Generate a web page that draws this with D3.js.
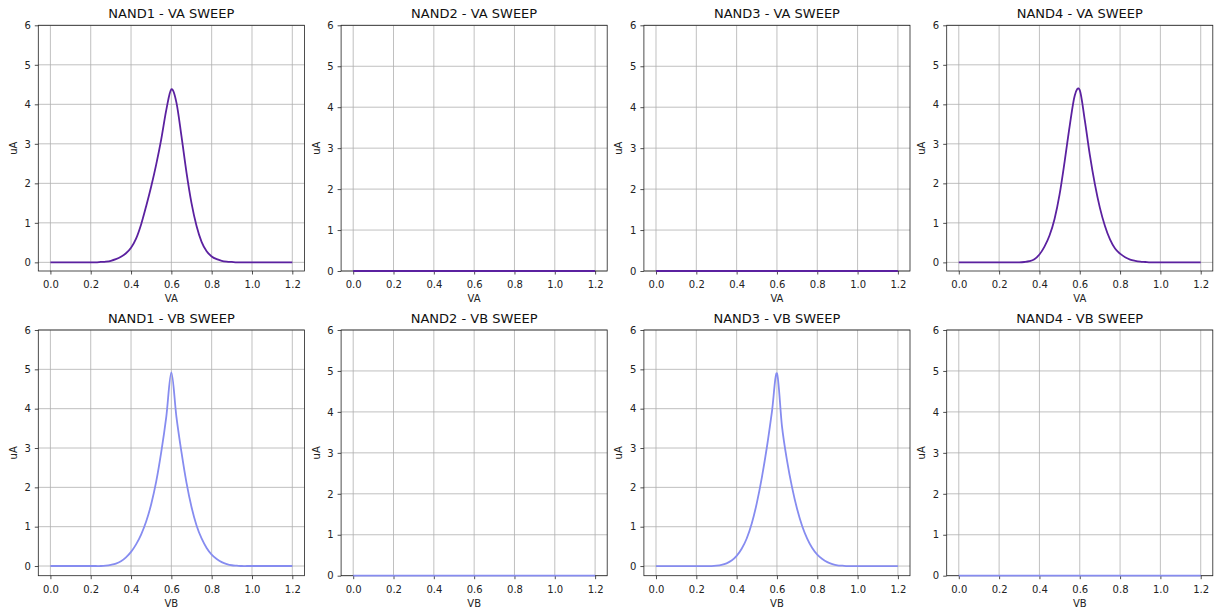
<!DOCTYPE html>
<html>
<head>
<meta charset="utf-8">
<script src="https://cdn.jsdelivr.net/npm/d3@7"></script>
<style>
body { margin: 0; background: #fff; }
</style>
</head>
<body>
<div id="chart"></div>
<script>
// sweep voltage (V)
var xs = [0.000, 0.025, 0.050, 0.075, 0.100, 0.125, 0.150, 0.175, 0.200, 0.225,
          0.250, 0.275, 0.300, 0.325, 0.350, 0.375, 0.400, 0.425, 0.450, 0.475,
          0.500, 0.525, 0.550, 0.575, 0.600, 0.625, 0.650, 0.675, 0.700, 0.725,
          0.750, 0.775, 0.800, 0.825, 0.850, 0.875, 0.900, 0.925, 0.950, 0.975,
          1.000, 1.025, 1.050, 1.075, 1.100, 1.125, 1.150, 1.175, 1.200];

// current (uA), VA sweep
var nand1A = [0, 0, 0, 0, 0, 0, 0, 0, 0, 0,
              0.01, 0.02, 0.04, 0.08, 0.14, 0.23, 0.37, 0.60, 0.96, 1.42,
              1.92, 2.48, 3.12, 3.86, 4.38, 4.05, 3.20, 2.28, 1.50, 0.92,
              0.52, 0.28, 0.15, 0.08, 0.04, 0.02, 0.01, 0, 0, 0,
              0, 0, 0, 0, 0, 0, 0, 0, 0];
var nand2A = [0, 0, 0, 0, 0, 0, 0, 0, 0, 0,
              0, 0, 0, 0, 0, 0, 0, 0, 0, 0,
              0, 0, 0, 0, 0, 0, 0, 0, 0, 0,
              0, 0, 0, 0, 0, 0, 0, 0, 0, 0,
              0, 0, 0, 0, 0, 0, 0, 0, 0];
var nand3A = [0, 0, 0, 0, 0, 0, 0, 0, 0, 0,
              0, 0, 0, 0, 0, 0, 0, 0, 0, 0,
              0, 0, 0, 0, 0, 0, 0, 0, 0, 0,
              0, 0, 0, 0, 0, 0, 0, 0, 0, 0,
              0, 0, 0, 0, 0, 0, 0, 0, 0];
var nand4A = [0, 0, 0, 0, 0, 0, 0, 0, 0, 0,
              0, 0, 0, 0.01, 0.03, 0.08, 0.20, 0.40, 0.68, 1.10,
              1.72, 2.55, 3.45, 4.22, 4.36, 3.60, 2.72, 1.98, 1.38, 0.92,
              0.58, 0.35, 0.22, 0.13, 0.07, 0.04, 0.02, 0.01, 0, 0,
              0, 0, 0, 0, 0, 0, 0, 0, 0];

// current (uA), VB sweep
var nand1B = [0, 0, 0, 0, 0, 0, 0, 0, 0, 0,
              0, 0.01, 0.03, 0.06, 0.12, 0.22, 0.36, 0.55, 0.80, 1.13,
              1.57, 2.15, 2.90, 3.80, 4.92, 3.80, 2.90, 2.12, 1.50, 1.03,
              0.70, 0.46, 0.29, 0.18, 0.10, 0.05, 0.02, 0.01, 0, 0,
              0, 0, 0, 0, 0, 0, 0, 0, 0];
var nand2B = [0, 0, 0, 0, 0, 0, 0, 0, 0, 0,
              0, 0, 0, 0, 0, 0, 0, 0, 0, 0,
              0, 0, 0, 0, 0, 0, 0, 0, 0, 0,
              0, 0, 0, 0, 0, 0, 0, 0, 0, 0,
              0, 0, 0, 0, 0, 0, 0, 0, 0];
var nand3B = [0, 0, 0, 0, 0, 0, 0, 0, 0, 0,
              0, 0, 0.01, 0.03, 0.07, 0.14, 0.26, 0.44, 0.70, 1.08,
              1.60, 2.25, 3.02, 3.92, 4.90, 3.55, 2.68, 2.00, 1.45, 1.02,
              0.70, 0.46, 0.29, 0.18, 0.10, 0.05, 0.02, 0.01, 0, 0,
              0, 0, 0, 0, 0, 0, 0, 0, 0];
var nand4B = [0, 0, 0, 0, 0, 0, 0, 0, 0, 0,
              0, 0, 0, 0, 0, 0, 0, 0, 0, 0,
              0, 0, 0, 0, 0, 0, 0, 0, 0, 0,
              0, 0, 0, 0, 0, 0, 0, 0, 0, 0,
              0, 0, 0, 0, 0, 0, 0, 0, 0];

var gates = ["NAND1", "NAND2", "NAND3", "NAND4"];
var sweeps = ["VA", "VB"];
var seriesA = [nand1A, nand2A, nand3A, nand4A];
var seriesB = [nand1B, nand2B, nand3B, nand4B];
var xTicks = [0, 0.2, 0.4, 0.6, 0.8, 1.0, 1.2];
var yTicks = [0, 1, 2, 3, 4, 5, 6];

var width = 1215;
var height = 610;
var colors = ["#5b21a0", "#868cf0"];
var panelLeft = [38.3, 341.1, 643.9, 946.7];
var panelTop = [25.3, 330];
var pw = 266.1, ph = 245.7;
var font = "'DejaVu Sans', sans-serif";

var svg = d3.select("#chart")
    .append("svg")
    .attr("width", width)
    .attr("height", height);

function drawPanel(col, row, ys) {
    var g = svg.append("g")
        .attr("transform", "translate(" + panelLeft[col] + "," + panelTop[row] + ")");

    var x = d3.scaleLinear().domain([-0.06, 1.26]).range([0, pw]);
    var ymax = d3.max(ys);
    var y = d3.scaleLinear()
        .domain([ymax > 0 ? -0.05 * ymax : 0, 6])
        .range([ph, 0]);

    // grid
    g.append("g").selectAll("line")
        .data(xTicks)
        .enter()
        .append("line")
        .attr("x1", function (d) { return x(d); })
        .attr("x2", function (d) { return x(d); })
        .attr("y1", 0)
        .attr("y2", ph)
        .attr("stroke", "#b0b0b0")
        .attr("stroke-width", 0.8);
    g.append("g").selectAll("line")
        .data(yTicks)
        .enter()
        .append("line")
        .attr("x1", 0)
        .attr("x2", pw)
        .attr("y1", function (d) { return y(d); })
        .attr("y2", function (d) { return y(d); })
        .attr("stroke", "#b0b0b0")
        .attr("stroke-width", 0.8);

    // axes
    var xa = g.append("g")
        .attr("transform", "translate(0," + ph + ")")
        .call(d3.axisBottom(x).tickValues(xTicks).tickFormat(d3.format(".1f"))
            .tickSize(3.5).tickPadding(6.4));
    var ya = g.append("g")
        .call(d3.axisLeft(y).tickValues(yTicks).tickFormat(d3.format("d"))
            .tickSize(3.5).tickPadding(4));
    [xa, ya].forEach(function (a) {
        a.attr("font-family", font).attr("font-size", 10);
        a.select(".domain").remove();
        a.selectAll(".tick line").attr("stroke", "#222").attr("stroke-width", 0.8);
        a.selectAll(".tick text").attr("fill", "#222");
    });

    // frame
    g.append("rect")
        .attr("x", 0)
        .attr("y", 0)
        .attr("width", pw)
        .attr("height", ph)
        .attr("fill", "none")
        .attr("stroke", "#222")
        .attr("stroke-width", 0.8);

    // curve (uniform catmull-rom, smooth in x)
    var line = d3.line()
        .x(function (d, i) { return x(xs[i]); })
        .y(function (d) { return y(d); })
        .curve(d3.curveCatmullRom.alpha(0));
    g.append("path")
        .datum(ys)
        .attr("d", line)
        .attr("fill", "none")
        .attr("stroke", colors[row])
        .attr("stroke-width", 1.8);

    // texts
    g.append("text")
        .attr("x", pw / 2)
        .attr("y", -7)
        .attr("text-anchor", "middle")
        .attr("font-family", font)
        .attr("font-size", 13)
        .attr("fill", "#111")
        .text(gates[col] + " - " + sweeps[row] + " SWEEP");
    g.append("text")
        .attr("x", pw / 2)
        .attr("y", ph + 31)
        .attr("text-anchor", "middle")
        .attr("font-family", font)
        .attr("font-size", 10)
        .attr("fill", "#222")
        .text(sweeps[row]);
    g.append("text")
        .attr("transform", "translate(-21.6," + (ph / 2) + ") rotate(-90)")
        .attr("text-anchor", "middle")
        .attr("font-family", font)
        .attr("font-size", 10)
        .attr("fill", "#222")
        .text("uA");
}

for (var i = 0; i < 4; i++) {
    drawPanel(i, 0, seriesA[i]);
    drawPanel(i, 1, seriesB[i]);
}
</script>
</body>
</html>
